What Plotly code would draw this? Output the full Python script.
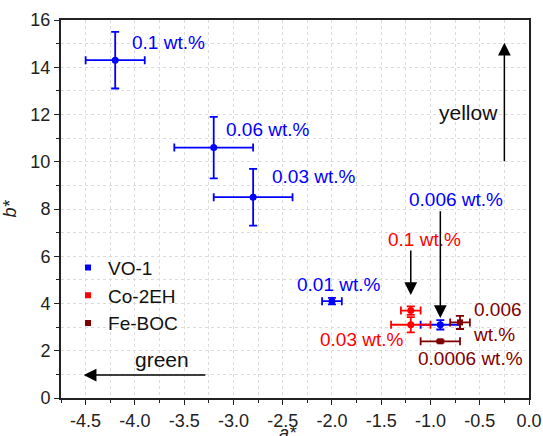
import plotly.graph_objects as go

# ---------------- data ----------------
vo_x = [-4.2, -3.2, -2.8, -2.0, -0.9]
vo_y = [14.3, 10.6, 8.5, 4.1, 3.1]
vo_xerr = [0.3, 0.4, 0.4, 0.1, 0.2]
vo_yerr = [1.2, 1.3, 1.2, 0.14, 0.2]
vo_labels = ["0.1 wt.%", "0.06 wt.%", "0.03 wt.%", "0.01 wt.%", "0.006 wt.%"]

co_x = [-1.2, -1.2]
co_y = [3.7, 3.1]
co_xerr = [0.1, 0.2]
co_yerr = [0.18, 0.32]
co_labels = ["0.1 wt.%", "0.03 wt.%"]

fe_x = [-0.7, -0.9]
fe_y = [3.2, 2.4]
fe_xerr = [0.1, 0.2]
fe_yerr = [0.28, 0.05]
fe_labels = ["0.006<br>wt.%", "0.0006 wt.%"]

series_names = ["VO-1", "Co-2EH", "Fe-BOC"]

x_range = [-4.75, 0]
y_range = [0, 16]
x_ticks = [-4.5, -4.0, -3.5, -3.0, -2.5, -2.0, -1.5, -1.0, -0.5, 0.0]
y_ticks = [0, 2, 4, 6, 8, 10, 12, 14, 16]

# ---------------- styles ----------------
BLUE = "#0000FF"
RED = "#FF0000"
DRED = "#800000"
FONT = "Liberation Sans, Arial, sans-serif"

fig = go.Figure()


def add_series(xs, ys, xe, ye, color, symbol, size):
    fig.add_trace(go.Scatter(
        x=xs, y=ys, mode="markers", showlegend=False,
        marker=dict(color=color, symbol=symbol, size=size),
        error_x=dict(type="data", array=xe, color=color, thickness=1.8, width=4),
        error_y=dict(type="data", array=ye, color=color, thickness=1.8, width=4),
    ))


add_series(vo_x, vo_y, vo_xerr, vo_yerr, BLUE, "circle", 7)
add_series(co_x, co_y, co_xerr, co_yerr, RED, "circle", 7)
add_series(fe_x, fe_y, fe_xerr, fe_yerr, DRED, "square", 6)

# legend-only entries (square swatches)
for name, col in zip(series_names, [BLUE, RED, DRED]):
    fig.add_trace(go.Scatter(
        x=[None], y=[None], mode="markers", name=name,
        marker=dict(color=col, symbol="square", size=6),
    ))

# point labels
label_specs = [
    (vo_labels[0], -4.05, 15.04, "left", BLUE),
    (vo_labels[1], -3.10, 11.36, "left", BLUE),
    (vo_labels[2], -2.63, 9.38, "left", BLUE),
    (vo_labels[3], -1.93, 4.79, "center", BLUE),
    (vo_labels[4], -0.74, 8.39, "center", BLUE),
    (co_labels[0], -1.06, 6.69, "center", RED),
    (co_labels[1], -1.70, 2.46, "center", RED),
    (fe_labels[0], -0.59, 3.21, "left", DRED),
    (fe_labels[1], -0.59, 1.69, "center", DRED),
]
for txt, lx, ly, anc, col in label_specs:
    fig.add_annotation(x=lx, y=ly, text=txt, showarrow=False, xanchor=anc,
                       yanchor="middle", align="left",
                       font=dict(family=FONT, size=19, color=col))

# arrows
arrow_specs = [
    (-1.2, 4.36, -1.2, 6.31),
    (-0.9, 3.39, -0.9, 7.97),
    (-0.25, 15.04, -0.25, 9.96),
    (-4.52, 0.97, -3.27, 0.97),
]
for tx, ty, sx, sy in arrow_specs:
    fig.add_annotation(x=tx, y=ty, ax=sx, ay=sy, xref="x", yref="y",
                       axref="x", ayref="y", text="", showarrow=True,
                       arrowhead=2, arrowsize=1.7, arrowwidth=1.5,
                       arrowcolor="black")

fig.add_annotation(x=-0.61, y=12.07, text="yellow", showarrow=False,
                   font=dict(family=FONT, size=21, color="#111"))
fig.add_annotation(x=-3.72, y=1.65, text="green", showarrow=False,
                   font=dict(family=FONT, size=21, color="#111"))

# x-axis title (placed below the tick labels, partially cut by the page edge as in the original)
fig.add_annotation(x=-2.45, xref="x", y=-0.064, yref="paper", yanchor="top",
                   text="<i>a*</i>", showarrow=False, borderpad=0,
                   font=dict(family=FONT, size=18, color="#222"))

axis_common = dict(
    showline=True, linecolor="#222", linewidth=2, mirror=True,
    ticks="outside", ticklen=5, tickwidth=1.3, tickcolor="#222",
    showgrid=True, gridcolor="#dcdcdc", griddash="dot", gridwidth=1,
    zeroline=False,
    tickfont=dict(family=FONT, size=18, color="#222"),
)

fig.update_xaxes(
    range=x_range, tickvals=x_ticks, ticktext=[f"{v:.1f}" for v in x_ticks],
    minor=dict(dtick=0.25, ticks="outside", ticklen=3, tickcolor="#222",
               showgrid=True, gridcolor="#dcdcdc", griddash="dot"),
    automargin=False,
    **axis_common,
)
fig.update_yaxes(
    range=y_range, tickvals=y_ticks,
    minor=dict(dtick=1, ticks="outside", ticklen=3, tickcolor="#222",
               showgrid=True, gridcolor="#dcdcdc", griddash="dot"),
    title=dict(text="<i>b*</i>", font=dict(family=FONT, size=18, color="#222"), standoff=10),
    automargin=False,
    **axis_common,
)

fig.update_layout(
    width=543, height=436,
    margin=dict(l=61, r=14, t=20, b=38),
    plot_bgcolor="white", paper_bgcolor="white",
    font=dict(family=FONT),
    legend=dict(x=0.015, y=0.395, xanchor="left", yanchor="top",
                bgcolor="rgba(0,0,0,0)", font=dict(family=FONT, size=19, color="#111"),
                tracegroupgap=0),
)

fig.write_html("out.html")
